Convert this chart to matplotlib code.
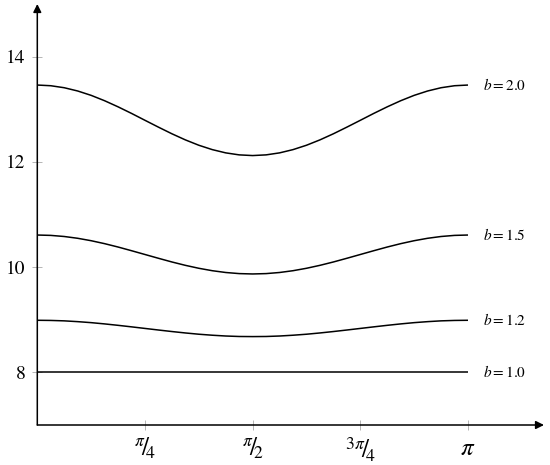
import numpy as np
import matplotlib.pyplot as plt

# angles in steps of pi/32 from 0 to pi
theta = np.arange(33) * np.pi / 32

# values, 0 .. pi/2 (curves are symmetric about pi/2)
half_10 = [8.0] * 17
half_12 = [8.99, 8.987, 8.979, 8.964, 8.945, 8.921, 8.894, 8.865, 8.835,
           8.805, 8.776, 8.749, 8.725, 8.706, 8.691, 8.682, 8.68]
half_15 = [10.61, 10.603, 10.582, 10.548, 10.502, 10.446, 10.382, 10.312, 10.24,
           10.168, 10.098, 10.034, 9.978, 9.932, 9.898, 9.877, 9.87]
half_20 = [13.46, 13.447, 13.409, 13.347, 13.264, 13.162, 13.046, 12.921, 12.79,
           12.66, 12.534, 12.418, 12.316, 12.233, 12.171, 12.133, 12.12]

labels = ['$b = 1.0$', '$b = 1.2$', '$b = 1.5$', '$b = 2.0$']
halves = [half_10, half_12, half_15, half_20]

x_ticks = [np.pi / 4, np.pi / 2, 3 * np.pi / 4, np.pi]
x_ticklabels = [r'${}^{\pi}\!/\!{}_{4}$', r'${}^{\pi}\!/\!{}_{2}$',
                r'${}^{3\pi}\!/\!{}_{4}$', r'$\pi$']
y_ticks = [8, 10, 12, 14]

plt.rcParams['mathtext.fontset'] = 'stix'
plt.rcParams['font.family'] = ['STIXGeneral', 'DejaVu Serif']

fig = plt.figure(figsize=(5.5, 4.65), dpi=100)
ax = fig.add_axes([37.3 / 550, 1 - 425 / 465, (544 - 37.3) / 550, (425 - 4) / 465])
ax.set_xlim(0, 3.696)
ax.set_ylim(7, 15)

for h, lab in zip(halves, labels):
    vals = h + h[-2::-1]
    ax.plot(theta, vals, color='black', lw=1.1, solid_capstyle='butt')
    ax.annotate(lab, xy=(np.pi, vals[-1]), xytext=(10.5, 0), textcoords='offset points',
                va='center', ha='left', fontsize=11)

for s in ax.spines.values():
    s.set_visible(False)

# axis arrows
ax.annotate('', xy=(1, 0), xytext=(0, 0), xycoords='axes fraction',
            arrowprops=dict(arrowstyle='-|>', lw=1.1, color='black', mutation_scale=12,
                            shrinkA=0, shrinkB=0))
ax.annotate('', xy=(0, 1), xytext=(0, 0), xycoords='axes fraction',
            arrowprops=dict(arrowstyle='-|>', lw=1.1, color='black', mutation_scale=12,
                            shrinkA=0, shrinkB=0))

ax.set_xticks(x_ticks)
ax.set_xticklabels(x_ticklabels, fontsize=18)
ax.set_yticks(y_ticks)
ax.set_yticklabels([str(v) for v in y_ticks], fontsize=14)
ax.tick_params(direction='inout', length=7, width=0.6, color='#aaaaaa', pad=5)

fig.savefig('out.png', dpi=100)
